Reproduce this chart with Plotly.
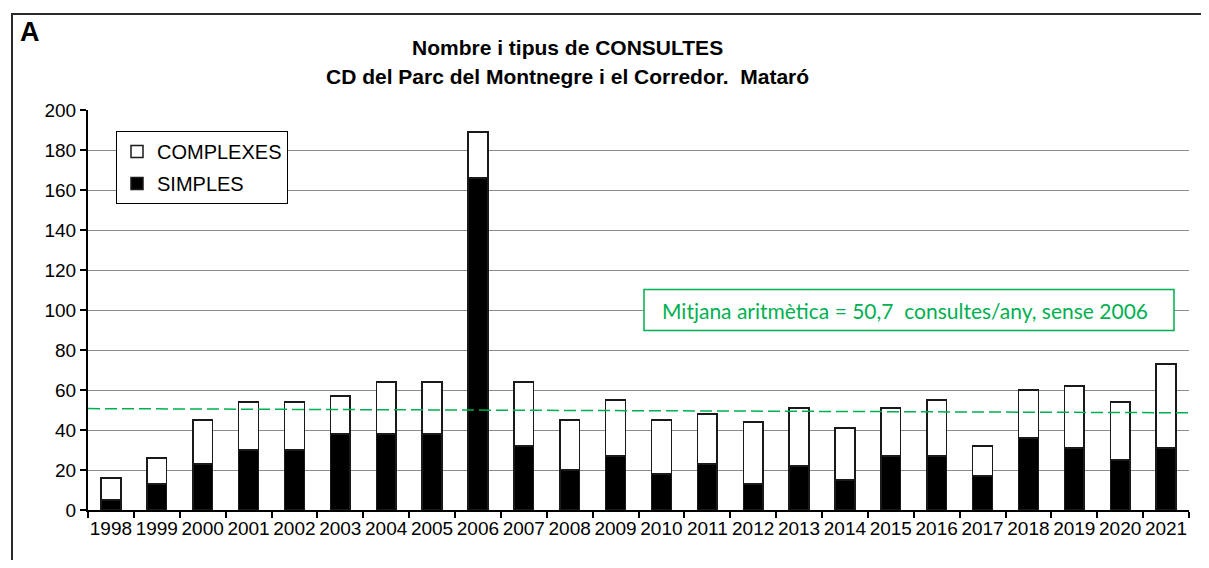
import plotly.graph_objects as go

years = [str(y) for y in range(1998, 2022)]
simples = [5, 13, 23, 30, 30, 38, 38, 38, 166, 32, 20, 27, 18, 23, 13, 22, 15, 27, 27, 17, 36, 31, 25, 31]
totals = [16, 26, 45, 54, 54, 57, 64, 64, 189, 64, 45, 55, 45, 48, 44, 51, 41, 51, 55, 32, 60, 62, 54, 73]
complexes = [t - s for t, s in zip(totals, simples)]

mean_label = "Mitjana aritmètica = 50,7  consultes/any, sense 2006"
mean_start = 50.7
mean_end = 48.6

# page has an 8px body margin; work in page coordinates and convert
OFF = 8
W, H = 1209 - 2 * OFF, 568 - 2 * OFF
plot_left, plot_right, plot_top, plot_bottom = 88, 1189, 110, 510  # page px
L = plot_left - OFF
R = W - (plot_right - OFF)
T = plot_top - OFF
B = H - (plot_bottom - OFF)
pw = plot_right - plot_left
ph = plot_bottom - plot_top


def px(x):
    return (x - plot_left) / pw


def py(y):
    return (plot_bottom - y) / ph


fig = go.Figure()
fig.add_trace(go.Bar(
    x=years, y=simples, name="SIMPLES", legendgroup="s", legendrank=2,
    marker=dict(color="black", line=dict(color="#1a1a1a", width=1.5)),
))
fig.add_trace(go.Bar(
    x=years, y=complexes, name="COMPLEXES", legendgroup="c", legendrank=1,
    marker=dict(color="white", line=dict(color="#1a1a1a", width=1.5)),
))

font_main = "Liberation Sans, Arial, sans-serif"

fig.update_layout(
    width=W, height=H, autosize=False,
    margin=dict(l=L, r=R, t=T, b=B, pad=0),
    paper_bgcolor="white", plot_bgcolor="white",
    barmode="stack", bargap=0.57,
    font=dict(family=font_main, size=19, color="black"),
    showlegend=True,
    legend=dict(
        x=px(116), y=py(131), xanchor="left", yanchor="top",
        bordercolor="black", borderwidth=1, bgcolor="white",
        traceorder="grouped", tracegroupgap=3,
        font=dict(family=font_main, size=20, color="black"),
        itemwidth=30,
    ),
    xaxis=dict(
        type="category", showline=True, linecolor="black", linewidth=2,
        ticks="outside", tickson="boundaries", ticklen=6, tickcolor="black", tickwidth=2,
        showgrid=False, tickfont=dict(size=19), tickangle=0, automargin=False,
        fixedrange=True,
    ),
    yaxis=dict(
        range=[0, 200], dtick=20, showline=True, linecolor="black", linewidth=2,
        ticks="outside", ticklen=6, tickcolor="black", tickwidth=2,
        showgrid=True, gridcolor="#8c8c8c", gridwidth=1,
        tickfont=dict(size=19), zeroline=False, automargin=False,
    ),
)

shapes = []
# outer frame: only top and left edges are visible in the picture
shapes.append(dict(type="line", xref="paper", yref="paper",
                   x0=px(11), x1=px(1215), y0=py(14), y1=py(14),
                   line=dict(color="#2a2a2a", width=2), layer="above"))
shapes.append(dict(type="line", xref="paper", yref="paper",
                   x0=px(12), x1=px(12), y0=py(13), y1=py(575),
                   line=dict(color="#2a2a2a", width=2), layer="above"))
# mean box
shapes.append(dict(type="rect", xref="paper", yref="y",
                   x0=px(644), x1=px(1174), y0=89.7, y1=110.3,
                   line=dict(color="#00B050", width=1.5), fillcolor="white", layer="above"))
# mean dashed line
shapes.append(dict(type="line", xref="paper", yref="y",
                   x0=0, x1=px(1193), y0=mean_start, y1=mean_end,
                   line=dict(color="#00B050", width=1.5, dash="12px,5px"), layer="above"))
fig.update_layout(shapes=shapes)

ann = []
ann.append(dict(text="<b>A</b>", xref="paper", yref="paper", x=px(18), y=py(32),
                xanchor="left", yanchor="middle", showarrow=False,
                font=dict(family=font_main, size=27, color="black")))
ann.append(dict(text="<b>Nombre i tipus de CONSULTES</b>", xref="paper", yref="paper",
                x=px(567), y=py(47), xanchor="center", yanchor="middle", showarrow=False,
                font=dict(family=font_main, size=21, color="black")))
ann.append(dict(text="<b>CD del Parc del Montnegre i el Corredor.  Mataró</b>", xref="paper", yref="paper",
                x=px(567), y=py(76), xanchor="center", yanchor="middle", showarrow=False,
                font=dict(family=font_main, size=21, color="black")))
ann.append(dict(text=mean_label, xref="paper", yref="y",
                x=px(660), y=100, xanchor="left", yanchor="middle", showarrow=False,
                font=dict(family="Lato, Carlito, sans-serif", size=21, color="#00B050")))
fig.update_layout(annotations=ann)

fig.write_html("out.html")
